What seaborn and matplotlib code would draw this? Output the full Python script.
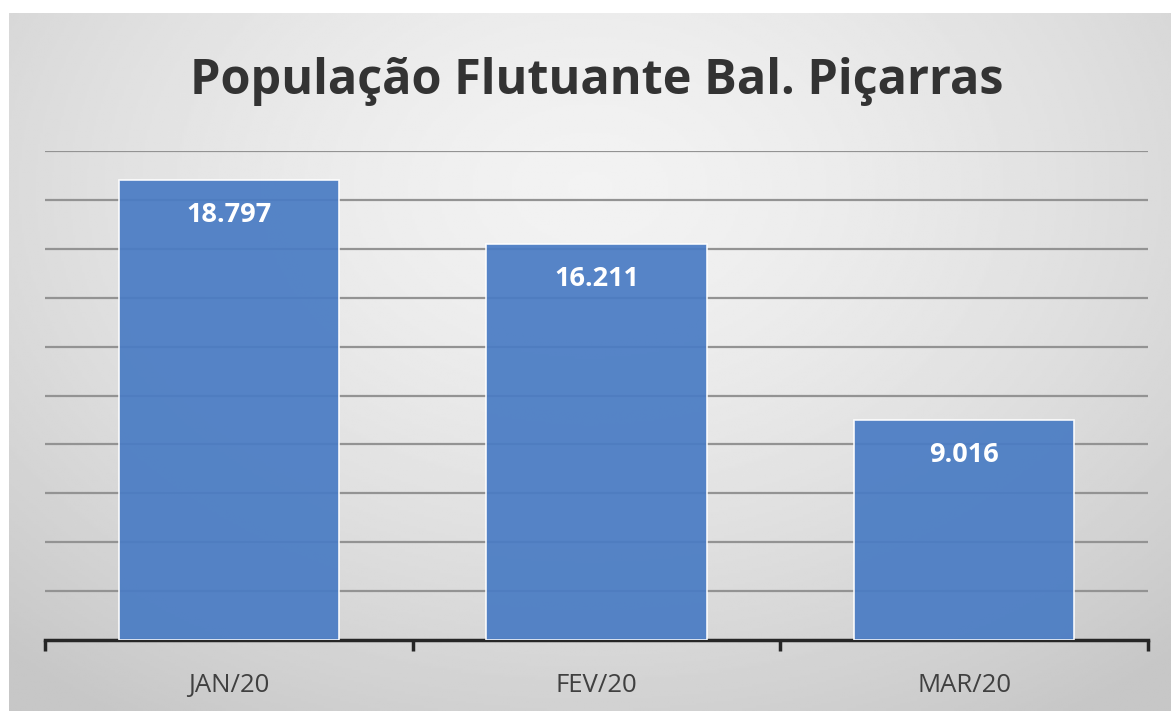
import numpy as np
import pandas as pd
import matplotlib.pyplot as plt
import seaborn as sns

meses = ['JAN/20', 'FEV/20', 'MAR/20']
populacao = [18797, 16211, 9016]

df = pd.DataFrame({'mes': meses, 'pop': populacao})

sns.set_style('white')
plt.rcParams['font.family'] = ['Open Sans', 'DejaVu Sans']

fig = plt.figure(figsize=(11.71, 7.11), dpi=100, facecolor='white')

# background with a soft radial gradient, like the spreadsheet chart
bg = fig.add_axes([9 / 1171, 0, 1 - 9 / 1171, 1 - 13 / 711])
yy, xx = np.mgrid[0:1:300j, 0:1:500j]
r = np.sqrt(((xx - 0.5) / 0.75) ** 2 + ((yy - 0.25) / 0.9) ** 2)
shade = 0.95 - 0.17 * np.clip(r, 0, 1) ** 1.5
bg.imshow(shade, cmap='gray', vmin=0, vmax=1, aspect='auto', extent=[0, 1, 1, 0])
bg.set_axis_off()

ax = fig.add_axes([45 / 1171, (711 - 640) / 711, (1148 - 45) / 1171, (640 - 151) / 711])
ax.patch.set_alpha(0)

sns.barplot(data=df, x='mes', y='pop', color='#4a7cc4', saturation=1, width=0.6,
            edgecolor='white', linewidth=1.2, alpha=0.93, ax=ax, zorder=3)

ax.set_ylim(0, 20000)
ax.set_xlim(-0.5, 2.5)
ax.set_yticks(np.arange(2000, 20001, 2000))
ax.yaxis.grid(True, color='#939393', linewidth=1.6, zorder=1)
ax.set_axisbelow(True)
ax.tick_params(axis='y', left=False, labelleft=False)

ax.set_xticks([-0.5, 0.5, 1.5, 2.5], minor=False)
ax.set_xticklabels([])
ax.set_xticks([0, 1, 2], minor=True)
ax.set_xticklabels(meses, minor=True, fontsize=18.5, color='#404040')
ax.tick_params(axis='x', which='major', bottom=True, direction='out', length=8, width=2.5, color='#262626')
ax.tick_params(axis='x', which='minor', bottom=True, length=0, pad=24)
ax.set_xlabel('')
ax.set_ylabel('')

for s in ['top', 'left', 'right']:
    ax.spines[s].set_visible(False)
ax.spines['bottom'].set_color('#262626')
ax.spines['bottom'].set_linewidth(2.5)

for i, v in enumerate(populacao):
    ax.text(i, v - 900, f'{v:,}'.replace(',', '.'), ha='center', va='top',
            color='white', fontsize=19.5, fontweight='bold', zorder=5)

fig.text(597 / 1171, 1 - 82 / 711, 'População Flutuante Bal. Piçarras', ha='center', va='center',
         fontsize=35, fontweight='bold', color='#333333')

fig.savefig('out.png', dpi=100, facecolor='white')
